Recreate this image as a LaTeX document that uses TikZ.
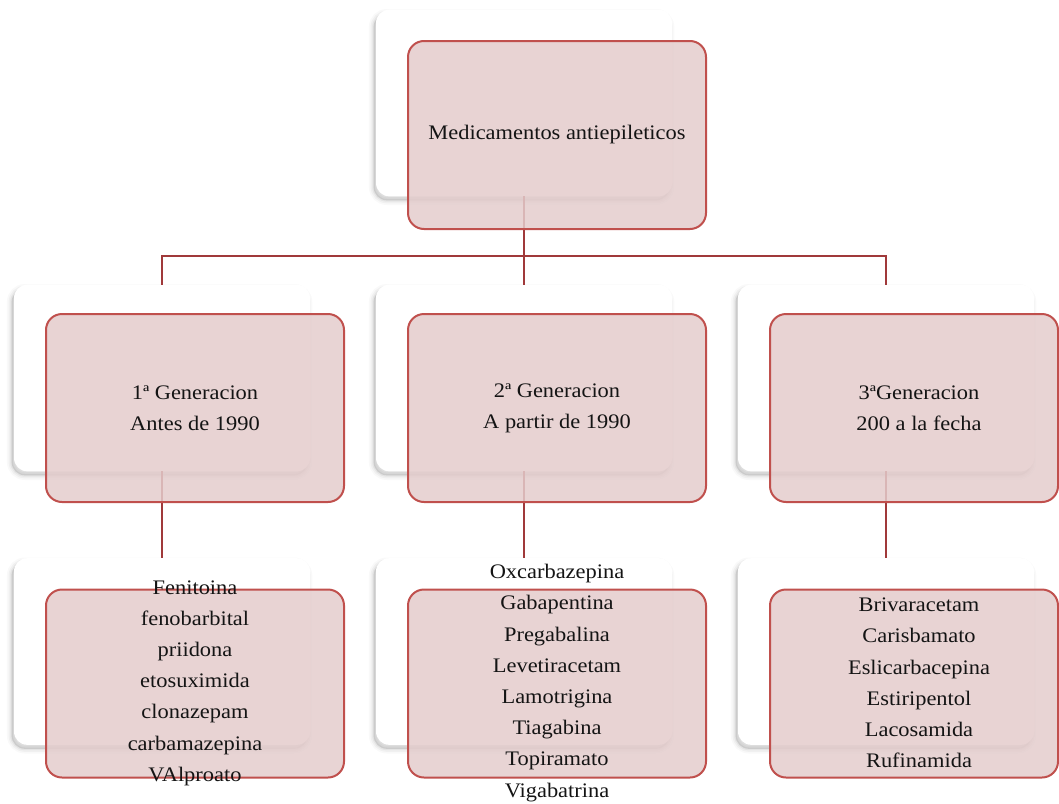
\documentclass[tikz,border=0pt]{standalone}
\usepackage{fontspec}
\setmainfont{Liberation Serif}[FakeStretch=1.085]
\usetikzlibrary{shadows}
\definecolor{pinkfill}{RGB}{228,204,204}
\definecolor{pinkborder}{RGB}{192,80,77}
\definecolor{linkcol}{RGB}{160,57,58}
\definecolor{txt}{RGB}{20,20,20}
\begin{document}
\begin{tikzpicture}[x=0.75pt,y=-0.75pt,
  wbox/.style={fill=white, rounded corners=10pt, minimum width=222pt, minimum height=140pt, inner sep=0pt, outer sep=0pt,
    general shadow={fill=black, draw=black, line width=7pt, opacity=0.025, shadow xshift=-1.8pt, shadow yshift=-3pt},
    general shadow={fill=black, draw=black, line width=4.5pt, opacity=0.035, shadow xshift=-1.8pt, shadow yshift=-3pt},
    general shadow={fill=black, draw=black, line width=2pt, opacity=0.05, shadow xshift=-1.8pt, shadow yshift=-3pt}},
  pbox/.style={draw=pinkborder, line width=1.5pt, fill=pinkfill, fill opacity=0.85, rounded corners=12pt, minimum width=223.5pt, minimum height=141pt, inner sep=0pt},
  link/.style={draw=linkcol, line width=1.6pt},
  label/.style={text=txt, align=center, font=\fontsize{15.5}{23.4}\selectfont, inner sep=0pt}
]
\useasboundingbox (0,0) rectangle (1059,803);
% white boxes
\node[wbox] (wtop) at (524,103) {};
\node[wbox] (w1) at (162,378) {};
\node[wbox] (w2) at (524,378) {};
\node[wbox] (w3) at (886,378) {};
\node[wbox] (wl1) at (162,651.5) {};
\node[wbox] (wl2) at (524,651.5) {};
\node[wbox] (wl3) at (886,651.5) {};
% connectors
\coordinate (bus) at (524,256);
\draw[link] (wtop.south) -- (bus);
\draw[link] (bus) -| (w1.north);
\draw[link] (bus) -| (w3.north);
\draw[link] (bus) -- (w2.north);
\draw[link] (w1.south) -- (wl1.north);
\draw[link] (w2.south) -- (wl2.north);
\draw[link] (w3.south) -- (wl3.north);
% pink boxes
\node[pbox] (ptop) at (557,135) {};
\node[pbox] (p1) at (195,408) {};
\node[pbox] (p2) at (557,408) {};
\node[pbox, minimum width=216pt] (p3) at (914,408) {};
\node[pbox] (pl1) at (195,683.5) {};
\node[pbox] (pl2) at (557,683.5) {};
\node[pbox, minimum width=216pt] (pl3) at (914,683.5) {};
% texts
\node[label] (ttop) at (557,135) {Medicamentos antiepileticos};
\node[label] (t1) at (195,408) {1ª Generacion\\Antes de 1990};
\node[label] (t2) at (557,408) {2ª Generacion\\A partir de 1990};
\node[label] (t3) at (919,408) {3ªGeneracion\\200 a la fecha};
\node[label] (tl1) at (195,683) {Fenitoina\\fenobarbital\\priidona\\etosuximida\\clonazepam\\carbamazepina\\VAlproato};
\node[label] (tl2) at (557,683) {Oxcarbazepina\\Gabapentina\\Pregabalina\\Levetiracetam\\Lamotrigina\\Tiagabina\\Topiramato\\Vigabatrina};
\node[label] (tl3) at (919,683) {Brivaracetam\\Carisbamato\\Eslicarbacepina\\Estiripentol\\Lacosamida\\Rufinamida};
\end{tikzpicture}
\end{document}
